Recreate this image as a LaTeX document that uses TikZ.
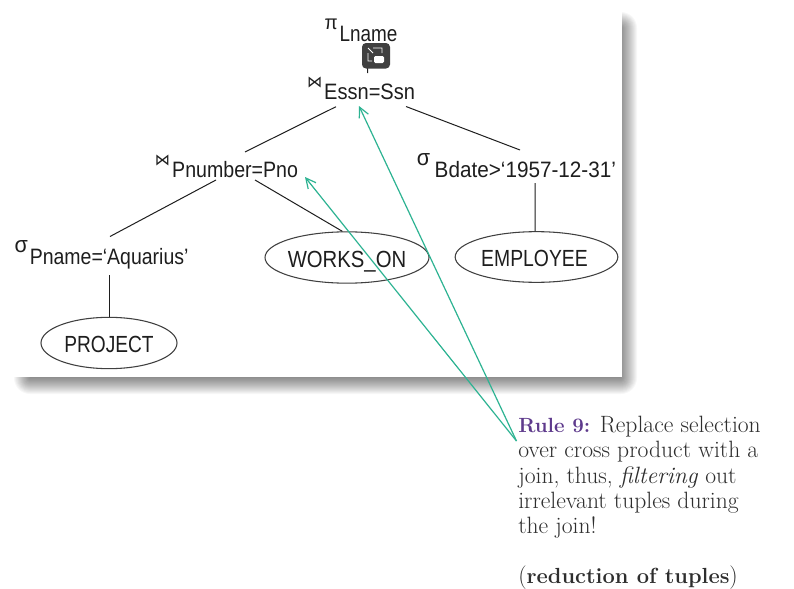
\documentclass[tikz,border=0pt]{standalone}
\usepackage{fontspec}
\usetikzlibrary{shapes.geometric,arrows.meta}
\newfontfamily\lblfont{Liberation Sans}
\newfontfamily\symfont{DejaVu Sans}
\newfontfamily\notefont{Latin Modern Roman}
\definecolor{ink}{HTML}{1E1E1E}
\definecolor{teal1}{HTML}{2DB392}
\definecolor{rulepurple}{HTML}{5E3A8C}
\definecolor{bodytext}{HTML}{2E2E2E}
\newcommand{\oplabel}[4]{{\fontsize{#2}{#2}\selectfont\scalebox{.95}[1]{\raisebox{9pt}{#1}}}\hspace{1.5pt}\scalebox{#3}[1]{#4}}
\newcommand{\rellabel}[4][0pt]{\makebox[0pt]{\hspace*{#1}\smash{\raisebox{#2}{\scalebox{#3}[1]{#4}}}}}
\newcommand{\notebold}[2]{{\fontsize{#1}{18.9}\selectfont\bfseries #2}}
\tikzset{
  oplbl/.style={anchor=base,inner sep=0pt,text=ink,font=\lblfont\fontsize{16.7}{17}\selectfont},
  relbox/.style={draw=ink!85,line width=.8pt,ellipse,inner sep=0pt,text=ink,font=\lblfont\fontsize{17.5}{18}\selectfont},
  treeedge/.style={draw=ink,line width=.75pt},
  hint/.style={draw=teal1,line width=.9pt,-{Straight Barb[length=7.5pt,width=7.5pt]}}
}
\begin{document}
\begin{tikzpicture}[x=.75pt,y=-.75pt]
\useasboundingbox (0,0) rectangle (794,589);
\fill[white] (0,0) rectangle (794,589);
% drop shadow
\foreach \i in {0,...,16}{
  \fill[black,opacity=.032,rounded corners=\i*.75pt] (30-\i,28-\i) rectangle (621+\i,378+\i);
}
\fill[white] (12,10) rectangle (622,377);
% operators
\node[oplbl] (lname) at (361,41) {\oplabel{π}{15}{.85}{Lname}};
\node[oplbl] (essn) at (361,99) {\oplabel{\symfont ⋈}{12}{.9}{Essn=Ssn}};
\node[oplbl] (pnum) at (226.5,177) {\oplabel{\symfont ⋈}{12}{.88}{Pnumber=Pno}};
\node[oplbl] (bdate) at (516.5,177) {\oplabel{σ}{17}{.93}{\hspace{2pt}Bdate>‘1957-12-31’}};
\node[oplbl] (pname) at (101.5,264) {\oplabel{σ}{17}{.875}{Pname=‘Aquarius’}};
% relations
\node[relbox,minimum width=102pt,minimum height=38.5pt] (project) at (109,343) {\rellabel{-7.3pt}{.82}{PROJECT}};
\node[relbox,minimum width=123pt,minimum height=38.5pt] (works) at (347,257.5) {\rellabel{-7.2pt}{.87}{WORKS\_ON}};
\node[relbox,minimum width=122pt,minimum height=38pt] (employee) at (536.5,257) {\rellabel[-3pt]{-6.9pt}{.83}{EMPLOYEE}};
% tree edges
\draw[treeedge] ([shift={(7.5,4)}]lname.base) -- ([shift={(6.5,-26)}]essn.base);
\draw[treeedge] ([shift={(-25,7.7)}]essn.base) -- ([shift={(18.5,-25)}]pnum.base);
\draw[treeedge] ([shift={(45,7.5)}]essn.base) -- ([shift={(3.5,-27)}]bdate.base);
\draw[treeedge] ([shift={(-10.5,3)}]pnum.base) -- ([shift={(8.5,-27.5)}]pname.base);
\draw[treeedge] ([shift={(28.5,3)}]pnum.base) -- (works.100);
\draw[treeedge] ([shift={(7.5,11)}]pname.base) -- (project.north);
\draw[treeedge] ([shift={(18.5,6)}]bdate.base) -- ([xshift=-1.1pt]employee.north);
% note
\node[anchor=north west,inner sep=0pt,align=left,text=bodytext,font=\notefont\fontsize{17.7}{18.9}\selectfont] (rule) at (518,416)
 {\notebold{15.4}{\color{rulepurple}Rule 9:} Replace selection\\
  over cross product with a\\
  join, thus, \textit{filtering} out\\
  irrelevant tuples during\\
  the join!\\[18.9pt]
  (\notebold{16.4}{reduction of tuples})};
\coordinate (ruletip) at (516.5,441);
\draw[hint] (ruletip) -- ([shift={(-2,7)}]essn.base);
\draw[hint] (ruletip) -- ([shift={(78.5,0)}]pnum.base);
% player overlay icon
\fill[black!75,rounded corners=3pt] (362,43) rectangle (390,68.5);
\draw[white,line width=.7pt] (373,48) -- (382,48) -- (382,53) (368,53) -- (368,61) -- (372,61) (368,48) -- (373,53);
\fill[white,rounded corners=1pt] (374,56) rectangle (384,63);
\end{tikzpicture}
\end{document}
